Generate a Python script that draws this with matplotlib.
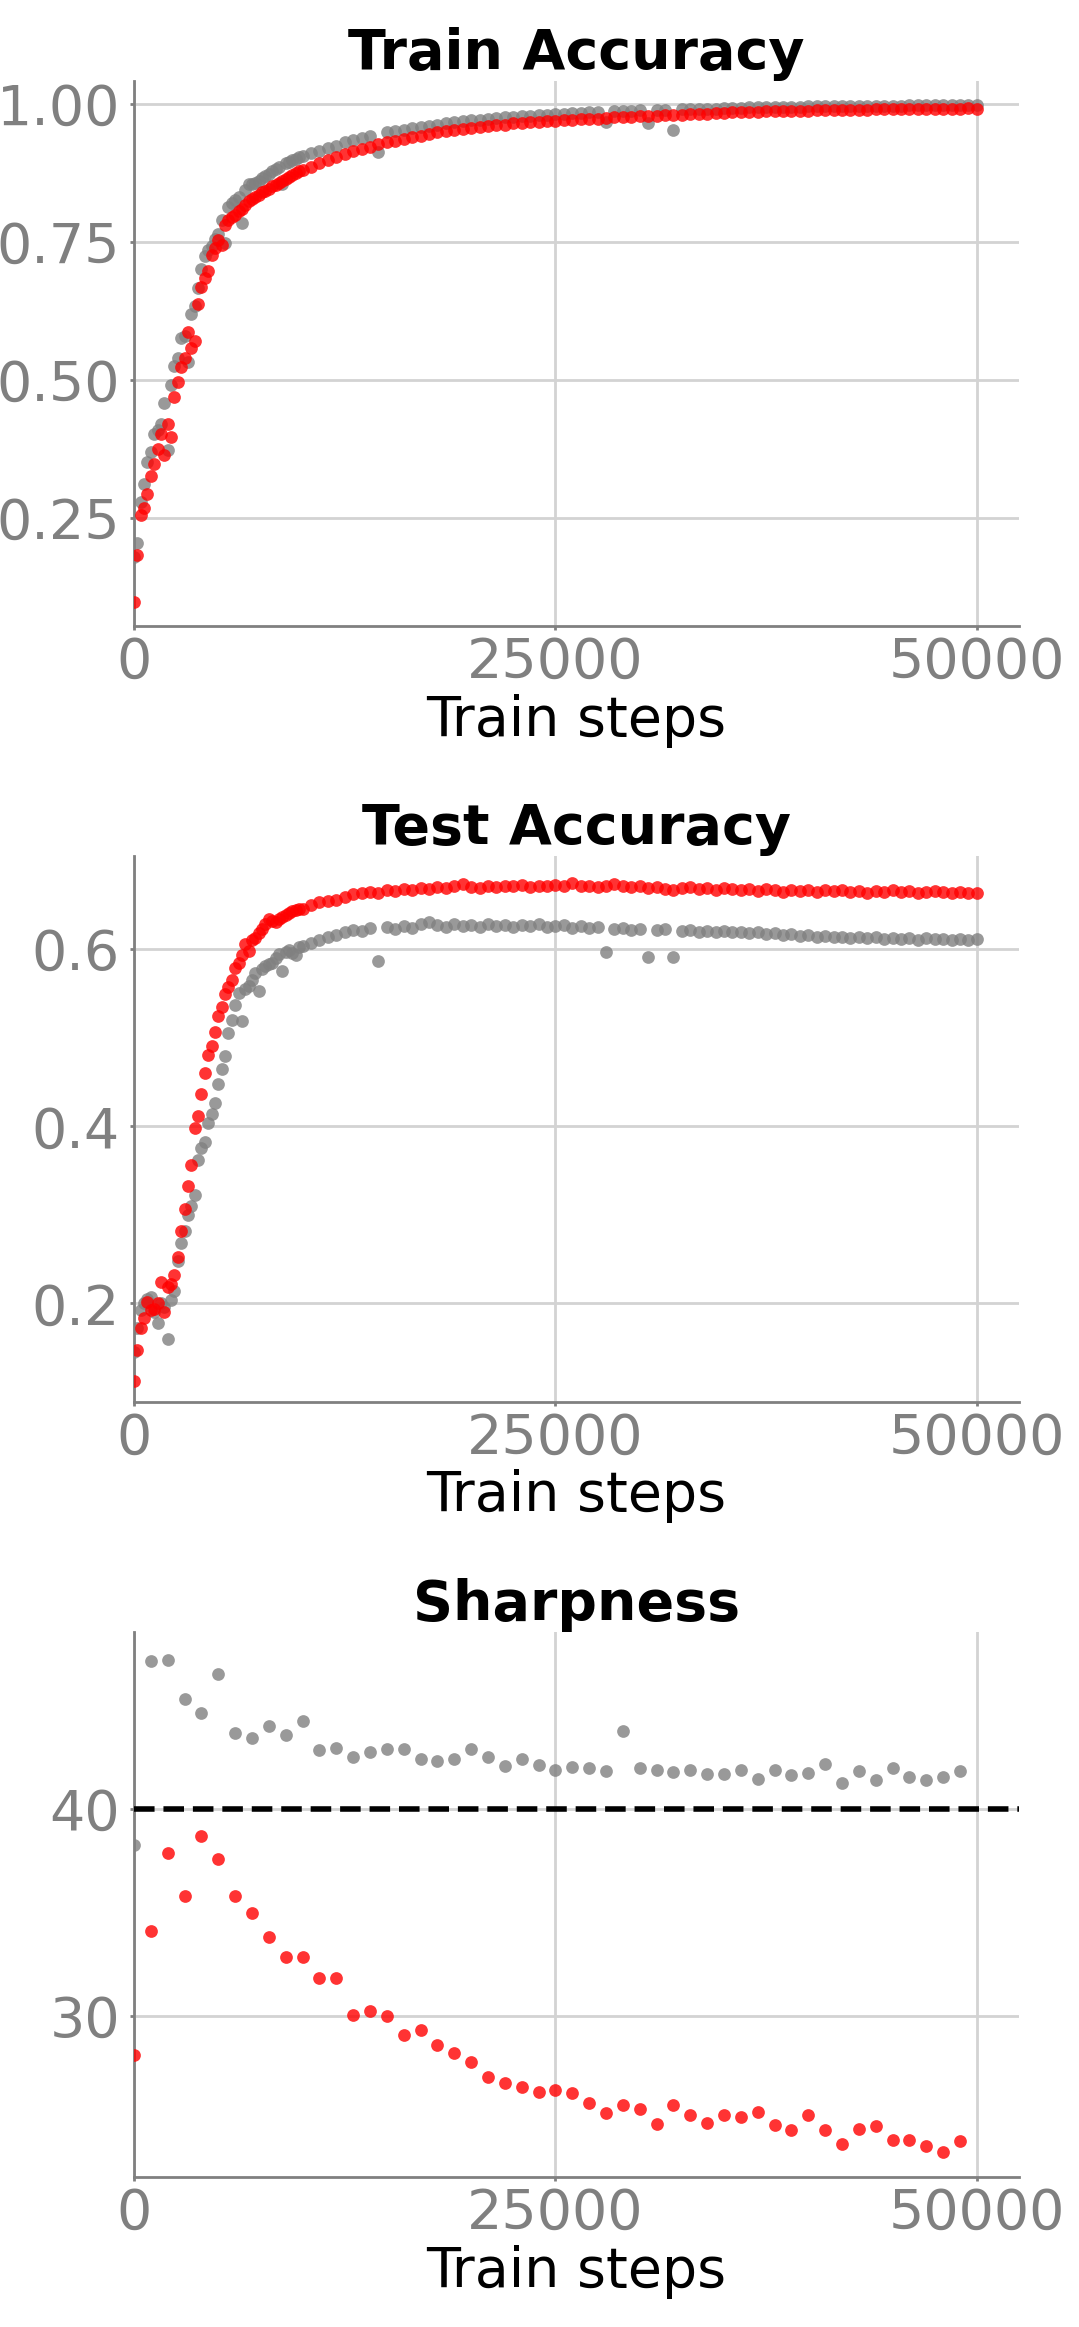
import numpy as np
import matplotlib
matplotlib.use('Agg')
import matplotlib.pyplot as plt

plt.rcParams['font.family'] = ['DejaVu Sans']

# eval steps: every 200 up to 10000, then every 500
steps = np.concatenate([np.arange(0, 10001, 200), np.arange(10500, 50001, 500)])
sharp_steps = np.arange(0, 49001, 1000)

train_acc_gray = [
    0.180, 0.204, 0.280, 0.312, 0.351, 0.370, 0.402, 0.410, 0.421, 0.459,
    0.373, 0.491, 0.526, 0.540, 0.577, 0.580, 0.532, 0.619, 0.635, 0.666,
    0.702, 0.724, 0.735, 0.743, 0.755, 0.765, 0.790, 0.749, 0.813, 0.820,
    0.826, 0.832, 0.784, 0.845, 0.855, 0.856, 0.858, 0.861, 0.866, 0.870,
    0.874, 0.878, 0.882, 0.886, 0.855, 0.893, 0.895, 0.898, 0.901, 0.904,
    0.906,
    0.911, 0.915, 0.921, 0.925, 0.931, 0.935, 0.939, 0.942, 0.914, 0.949,
    0.952, 0.954, 0.957, 0.959, 0.961, 0.963, 0.966, 0.967, 0.969, 0.971,
    0.972, 0.974, 0.975, 0.976, 0.977, 0.978, 0.979, 0.980, 0.981, 0.982,
    0.983, 0.984, 0.984, 0.985, 0.986, 0.968, 0.987, 0.988, 0.988, 0.989,
    0.966, 0.990, 0.990, 0.954, 0.991, 0.991, 0.992, 0.992, 0.992, 0.993,
    0.993, 0.993, 0.994, 0.994, 0.994, 0.995, 0.995, 0.995, 0.995, 0.996,
    0.996, 0.996, 0.996, 0.996, 0.997, 0.997, 0.997, 0.997, 0.997, 0.997,
    0.997, 0.998, 0.998, 0.998, 0.998, 0.998, 0.998, 0.998, 0.998, 0.998,
]
train_acc_red = [
    0.098, 0.183, 0.255, 0.268, 0.293, 0.326, 0.348, 0.376, 0.403, 0.364,
    0.421, 0.397, 0.470, 0.497, 0.523, 0.540, 0.587, 0.558, 0.571, 0.638,
    0.668, 0.685, 0.698, 0.727, 0.740, 0.753, 0.745, 0.781, 0.790, 0.795,
    0.800, 0.806, 0.810, 0.818, 0.825, 0.829, 0.831, 0.836, 0.840, 0.842,
    0.847, 0.851, 0.854, 0.857, 0.861, 0.864, 0.868, 0.872, 0.875, 0.878,
    0.881,
    0.887, 0.893, 0.898, 0.904, 0.910, 0.915, 0.919, 0.923, 0.927, 0.931,
    0.934, 0.937, 0.940, 0.943, 0.946, 0.949, 0.951, 0.953, 0.955, 0.957,
    0.959, 0.961, 0.962, 0.963, 0.965, 0.966, 0.967, 0.968, 0.969, 0.970,
    0.971, 0.972, 0.973, 0.973, 0.974, 0.975, 0.976, 0.977, 0.977, 0.978,
    0.979, 0.979, 0.980, 0.981, 0.981, 0.982, 0.983, 0.983, 0.984, 0.984,
    0.985, 0.985, 0.986, 0.986, 0.987, 0.987, 0.987, 0.988, 0.988, 0.988,
    0.989, 0.989, 0.989, 0.990, 0.990, 0.990, 0.990, 0.991, 0.991, 0.991,
    0.991, 0.991, 0.992, 0.992, 0.992, 0.992, 0.992, 0.992, 0.993, 0.992,
]

test_acc_gray = [
    0.145, 0.172, 0.192, 0.200, 0.205, 0.207, 0.190, 0.178, 0.200, 0.196,
    0.160, 0.204, 0.214, 0.248, 0.268, 0.282, 0.300, 0.310, 0.322, 0.362,
    0.376, 0.382, 0.404, 0.414, 0.426, 0.448, 0.465, 0.479, 0.505, 0.520,
    0.537, 0.551, 0.519, 0.555, 0.558, 0.565, 0.573, 0.553, 0.578, 0.581,
    0.583, 0.585, 0.590, 0.595, 0.575, 0.597, 0.599, 0.596, 0.593, 0.603,
    0.604,
    0.607, 0.610, 0.614, 0.616, 0.620, 0.622, 0.621, 0.624, 0.587, 0.625,
    0.623, 0.626, 0.624, 0.628, 0.631, 0.627, 0.625, 0.628, 0.626, 0.627,
    0.625, 0.628, 0.626, 0.627, 0.625, 0.627, 0.626, 0.628, 0.625, 0.626,
    0.627, 0.624, 0.626, 0.624, 0.625, 0.597, 0.623, 0.624, 0.622, 0.623,
    0.591, 0.622, 0.623, 0.591, 0.621, 0.622, 0.620, 0.621, 0.620, 0.621,
    0.619, 0.620, 0.618, 0.619, 0.617, 0.618, 0.616, 0.617, 0.615, 0.616,
    0.614, 0.615, 0.614, 0.614, 0.613, 0.614, 0.613, 0.614, 0.612, 0.613,
    0.612, 0.613, 0.611, 0.613, 0.612, 0.612, 0.611, 0.612, 0.611, 0.612,
]
test_acc_red = [
    0.112, 0.147, 0.172, 0.183, 0.202, 0.192, 0.194, 0.200, 0.224, 0.190,
    0.218, 0.222, 0.232, 0.252, 0.282, 0.306, 0.332, 0.356, 0.398, 0.412,
    0.436, 0.460, 0.481, 0.491, 0.506, 0.525, 0.535, 0.550, 0.557, 0.565,
    0.579, 0.585, 0.593, 0.606, 0.598, 0.610, 0.613, 0.618, 0.623, 0.628,
    0.634, 0.632, 0.631, 0.634, 0.637, 0.639, 0.641, 0.643, 0.644, 0.645,
    0.646,
    0.650, 0.653, 0.655, 0.656, 0.659, 0.662, 0.663, 0.665, 0.664, 0.667,
    0.666, 0.668, 0.667, 0.669, 0.668, 0.670, 0.669, 0.671, 0.674, 0.670,
    0.669, 0.671, 0.670, 0.672, 0.671, 0.673, 0.670, 0.672, 0.671, 0.673,
    0.672, 0.675, 0.672, 0.671, 0.670, 0.672, 0.674, 0.671, 0.670, 0.671,
    0.669, 0.670, 0.668, 0.667, 0.669, 0.670, 0.668, 0.669, 0.667, 0.669,
    0.668, 0.667, 0.668, 0.666, 0.668, 0.667, 0.665, 0.667, 0.666, 0.667,
    0.665, 0.667, 0.666, 0.667, 0.665, 0.666, 0.664, 0.666, 0.665, 0.667,
    0.665, 0.666, 0.664, 0.665, 0.666, 0.665, 0.664, 0.665, 0.664, 0.663,
]

sharp_gray = [
    38.25, 47.20, 47.25, 45.35, 44.65, 46.55, 43.70, 43.43, 44.04, 43.60,
    44.28, 42.86, 42.97, 42.51, 42.79, 42.92, 42.92, 42.45, 42.32, 42.44,
    42.92, 42.55, 42.08, 42.45, 42.12, 41.88, 42.07, 41.99, 41.85, 43.80,
    42.01, 41.88, 41.79, 41.88, 41.73, 41.73, 41.92, 41.48, 41.90, 41.66,
    41.75, 42.18, 41.25, 41.85, 41.42, 41.99, 41.55, 41.44, 41.55, 41.83,
]
sharp_red = [
    28.10, 34.10, 37.86, 35.81, 38.69, 37.60, 35.81, 35.00, 33.82, 32.86,
    32.86, 31.81, 31.85, 30.02, 30.24, 30.00, 29.08, 29.32, 28.60, 28.19,
    27.77, 27.05, 26.73, 26.55, 26.33, 26.40, 26.27, 25.79, 25.31, 25.68,
    25.50, 24.74, 25.68, 25.18, 24.82, 25.22, 25.11, 25.33, 24.69, 24.48,
    25.20, 24.48, 23.78, 24.54, 24.65, 23.99, 23.99, 23.71, 23.43, 23.93,
]
sharp_threshold = 40

fig = plt.figure(figsize=(1079 / 200, 2327 / 200), dpi=200)
axes = fig.subplots(3, 1)
fig.subplots_adjust(left=0.1242, right=0.9444, top=0.9652, bottom=0.0645, hspace=0.422)

panels = [
    ('Train Accuracy', steps, train_acc_gray, train_acc_red, (0.054, 1.042),
     [0.25, 0.5, 0.75, 1.0], '{:.2f}'),
    ('Test Accuracy', steps, test_acc_gray, test_acc_red, (0.089, 0.705),
     [0.2, 0.4, 0.6], '{:.1f}'),
    ('Sharpness', sharp_steps, sharp_gray, sharp_red, (22.2, 48.6),
     [30, 40], '{:.0f}'),
]

for ax, (title, x, g, r, ylim, yt, fmt) in zip(axes, panels):
    ax.scatter(x, g, s=21, color='gray', alpha=0.8, linewidths=0, zorder=3)
    ax.scatter(x, r, s=21, color='red', alpha=0.8, linewidths=0, zorder=3)
    ax.set_xlim(0, 52500)
    ax.set_ylim(*ylim)
    ax.set_xticks([0, 25000, 50000])
    ax.set_xticklabels(['0', '25000', '50000'])
    ax.set_yticks(yt)
    ax.set_yticklabels([fmt.format(v) for v in yt])
    ax.grid(True, color='lightgray', linewidth=1)
    ax.set_axisbelow(True)
    for s in ['top', 'right']:
        ax.spines[s].set_visible(False)
    for s in ['left', 'bottom']:
        ax.spines[s].set_color('gray')
        ax.spines[s].set_linewidth(1)
    ax.tick_params(axis='both', colors='gray', labelsize=20, length=1.5, width=1)
    ax.tick_params(axis='x', pad=2)
    ax.tick_params(axis='y', pad=3.5)
    ax.set_title(title, fontsize=20, fontweight='bold', pad=4)
    ax.set_xlabel('Train steps', fontsize=20, color='black', labelpad=1.5)

axes[2].axhline(sharp_threshold, color='black', linestyle='--', linewidth=2, zorder=4)

fig.savefig('out.png', dpi=200)
